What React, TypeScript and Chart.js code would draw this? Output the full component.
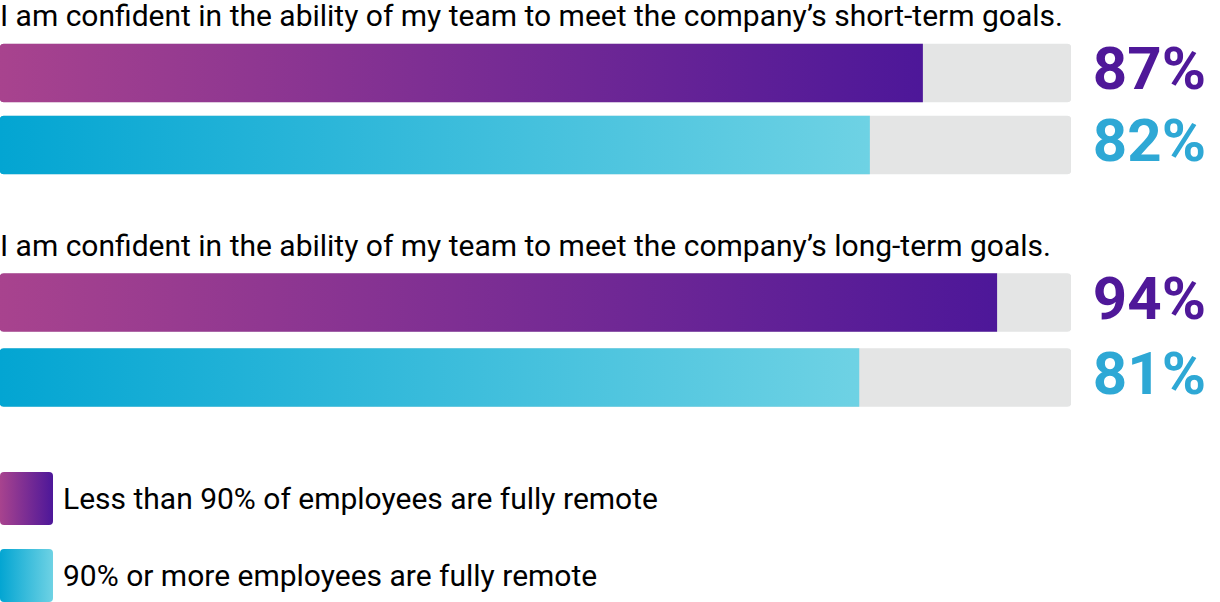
import React, { useEffect, useRef } from "react";
import { Chart, registerables } from "chart.js";

Chart.register(...registerables);

const questions = [
  "I am confident in the ability of my team to meet the company’s short-term goals.",
  "I am confident in the ability of my team to meet the company’s long-term goals.",
];
const seriesNames = [
  "Less than 90% of employees are fully remote",
  "90% or more employees are fully remote",
];
const lessThan90 = [87, 94];
const ninetyOrMore = [82, 81];
const axisMax = 101;

const purpleStops = ["#a8438e", "#4d1799"];
const cyanStops = ["#03a5d2", "#6ed2e4"];
const labelColors = ["#4f1899", "#2ea8d5"];
const trackColor = "#e4e5e5";
const FONT = "Roboto, 'Noto Sans', sans-serif";

function gradientFor(stops: string[]) {
  return (ctx: any) => {
    const chart = ctx.chart;
    const area = chart.chartArea;
    if (!area || ctx.dataIndex === undefined) return stops[1];
    const v = ctx.dataset.data[ctx.dataIndex];
    const x0 = chart.scales.x.getPixelForValue(0);
    const x1 = chart.scales.x.getPixelForValue(v);
    const g = chart.ctx.createLinearGradient(x0, 0, x1, 0);
    g.addColorStop(0, stops[0]);
    g.addColorStop(1, stops[1]);
    return g;
  };
}

const valueLabels = {
  id: "valueLabels",
  afterDatasetsDraw(chart: any) {
    const meta = chart.getDatasetMeta(0);
    const c = chart.ctx;
    c.save();
    c.font = `bold 60px ${FONT}`;
    c.textAlign = "right";
    c.textBaseline = "middle";
    meta.data.forEach((el: any, i: number) => {
      c.fillStyle = labelColors[i];
      c.fillText(`${chart.data.datasets[0].data[i]}%`, chart.width - 14, el.y + 1);
    });
    c.restore();
  },
};

function QuestionChart({ qi, top, height }: { qi: number; top: number; height: number }) {
  const ref = useRef<HTMLCanvasElement>(null);
  useEffect(() => {
    if (!ref.current) return;
    const values = [lessThan90[qi], ninetyOrMore[qi]];
    const chart = new Chart(ref.current, {
      type: "bar",
      data: {
        labels: seriesNames,
        datasets: [
          {
            label: "value",
            data: values,
            backgroundColor: (ctx: any) =>
              (ctx.dataIndex === 0 ? gradientFor(purpleStops) : gradientFor(cyanStops))(ctx),
            borderSkipped: false,
            borderRadius: { topLeft: 4, bottomLeft: 4, topRight: 0, bottomRight: 0 },
            barThickness: 58,
            grouped: false,
            order: 1,
          },
          {
            label: "track",
            data: values.map(() => axisMax),
            backgroundColor: trackColor,
            borderSkipped: false,
            borderRadius: 4,
            barThickness: 58,
            grouped: false,
            order: 2,
          },
        ],
      },
      options: {
        indexAxis: "y",
        animation: false,
        responsive: false,
        devicePixelRatio: 1,
        layout: { padding: { left: 0, right: 149, top: 0, bottom: 0 } },
        scales: {
          x: { type: "linear", min: 0, max: axisMax, display: false },
          y: { type: "category", display: false },
        },
        plugins: { legend: { display: false }, tooltip: { enabled: false } },
      },
      plugins: [valueLabels],
    } as any);
    return () => chart.destroy();
  }, [qi]);
  return (
    <canvas
      ref={ref}
      width={1220}
      height={height}
      style={{ position: "absolute", left: 0, top, width: 1220, height }}
    />
  );
}

export default function App() {
  const textStyle: React.CSSProperties = {
    position: "absolute",
    left: 0,
    fontFamily: FONT,
    fontSize: 30,
    lineHeight: "30px",
    color: "#000",
    whiteSpace: "nowrap",
  };
  return (
    <div
      style={{
        position: "fixed",
        left: 0,
        top: 0,
        width: 1220,
        height: 602,
        background: "#fff",
        overflow: "hidden",
      }}
    >
      <div style={{ ...textStyle, top: 1 }}>{questions[0]}</div>
      <QuestionChart qi={0} top={37} height={144} />
      <div style={{ ...textStyle, top: 231 }}>{questions[1]}</div>
      <QuestionChart qi={1} top={265} height={150} />
      {[0, 1].map((i) => (
        <div key={i}>
          <div
            style={{
              position: "absolute",
              left: 0,
              top: i === 0 ? 472 : 549,
              width: 53,
              height: 53,
              borderRadius: 4,
              background: `linear-gradient(to right, ${(i === 0 ? purpleStops : cyanStops)[0]}, ${(i === 0 ? purpleStops : cyanStops)[1]})`,
            }}
          />
          <div style={{ ...textStyle, left: 63, top: i === 0 ? 484 : 561 }}>{seriesNames[i]}</div>
        </div>
      ))}
    </div>
  );
}
